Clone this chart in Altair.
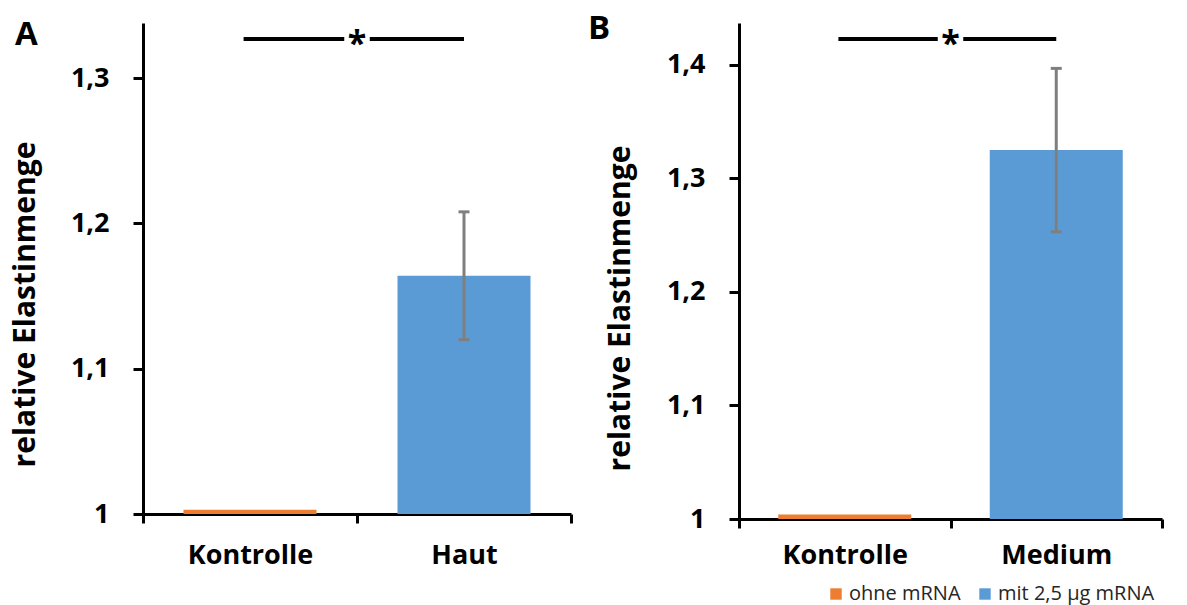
import altair as alt
import pandas as pd

# ---- data ----
panel_ids = ["A", "A", "B", "B"]
categories = ["Kontrolle", "Haut", "Kontrolle", "Medium"]
groups = ["ohne mRNA", "mit 2,5 µg mRNA", "ohne mRNA", "mit 2,5 µg mRNA"]
means = [1.003, 1.164, 1.004, 1.325]
errors = [0.0, 0.044, 0.0, 0.072]

y_max = {"A": 1.338, "B": 1.437}
y_ticks = {"A": [1, 1.1, 1.2, 1.3], "B": [1, 1.1, 1.2, 1.3, 1.4]}
sig_level = {"A": 1.327, "B": 1.423}
group_domain = ["ohne mRNA", "mit 2,5 µg mRNA"]
group_colors = ["#ED7D31", "#5B9BD5"]

FONT = "Open Sans"

df = pd.DataFrame({"panel": panel_ids, "cat": categories, "group": groups,
                   "mean": means, "err": errors})
df["lo"] = df["mean"] - df["err"]
df["hi"] = df["mean"] + df["err"]
df["base"] = 1.0


def make_panel(pid, width, height, title_x, title_y, xlab_pad, letter_x, letter_y):
    d = df[df.panel == pid].reset_index(drop=True)
    cats = list(d["cat"])
    xs = alt.Scale(domain=cats, paddingInner=0, paddingOuter=0)
    ys = alt.Scale(domain=[1, y_max[pid]], nice=False, zero=False)
    x_axis = alt.Axis(title=None, tickBand="extent", labelAngle=0, labelFont=FONT,
                      labelFontSize=27, labelFontWeight="bold", labelColor="black",
                      labelPadding=xlab_pad, domainColor="black", domainWidth=3,
                      tickColor="black", tickWidth=3, tickSize=9)
    y_axis = alt.Axis(title="relative Elastinmenge", values=y_ticks[pid],
                      labelExpr="replace(format(datum.value, '.1~f'), '.', ',')",
                      grid=False, labelFont=FONT, labelFontSize=27,
                      labelFontWeight="bold", labelColor="black", labelPadding=24,
                      domainColor="black", domainWidth=3, tickColor="black",
                      tickWidth=3, tickSize=10, titleFont=FONT, titleFontSize=30,
                      titleFontWeight="bold", titleColor="black", titleX=title_x,
                      titleY=title_y, titleBaseline="middle", titleAngle=-90)
    color = alt.Color("group:N", scale=alt.Scale(domain=group_domain, range=group_colors),
                      legend=alt.Legend(title=None, orient="none", legendX=683, legendY=561,
                                        direction="horizontal", symbolType="square",
                                        symbolSize=130, symbolStrokeWidth=0,
                                        labelFont=FONT, labelFontSize=20,
                                        labelColor="#262626", columnPadding=14,
                                        labelOffset=3))
    base = alt.Chart(d)
    bars = base.mark_bar(size=133).encode(
        x=alt.X("cat:N", scale=xs, axis=x_axis),
        y=alt.Y("mean:Q", scale=ys, axis=y_axis),
        y2="base:Q",
        color=color,
    )
    eb = base.transform_filter("datum.err > 0")
    err_rule = eb.mark_rule(color="#7F7F7F", strokeWidth=3).encode(
        x="cat:N", y="lo:Q", y2="hi:Q")
    cap_hi = eb.mark_tick(color="#7F7F7F", thickness=3, size=11, opacity=1).encode(
        x="cat:N", y="hi:Q")
    cap_lo = eb.mark_tick(color="#7F7F7F", thickness=3, size=11, opacity=1).encode(
        x="cat:N", y="lo:Q")

    sig = pd.DataFrame({"x1": [cats[0]], "x2": [cats[1]], "mid": [cats[1]],
                        "y": [sig_level[pid]], "label": [pid]})
    sbase = alt.Chart(sig)
    sig_line = sbase.mark_rule(color="black", strokeWidth=4).encode(
        x=alt.X("x1:N", bandPosition=0.47), x2="x2:N", y="y:Q")
    sig_bg = sbase.mark_point(shape="square", filled=True, color="white", size=650,
                              opacity=1).encode(
        x=alt.X("mid:N", bandPosition=0), y="y:Q")
    star = sbase.mark_text(text="*", font=FONT, fontSize=34, fontWeight="bold",
                           baseline="middle", dy=6, color="black").encode(
        x=alt.X("mid:N", bandPosition=0), y="y:Q")
    letter = sbase.mark_text(font=FONT, fontSize=33, fontWeight="bold", align="left",
                             baseline="alphabetic", color="black").encode(
        text="label:N", x=alt.value(letter_x), y=alt.value(letter_y))

    return alt.layer(bars, err_rule, cap_hi, cap_lo, sig_line, sig_bg, star,
                     letter).properties(width=width, height=height)


panel_a = make_panel("A", 428, 491, -118, 281, 19, -128, 22)
panel_b = make_panel("B", 423, 496, -119, 285, 14, -151, 16)

chart = alt.hconcat(panel_a, panel_b, spacing=168, bounds="flush").configure_view(
    stroke=None).properties(padding={"left": 10, "top": 13, "right": 5, "bottom": 5})

chart.save("out.html", embed_options={"renderer": "svg", "actions": False})
